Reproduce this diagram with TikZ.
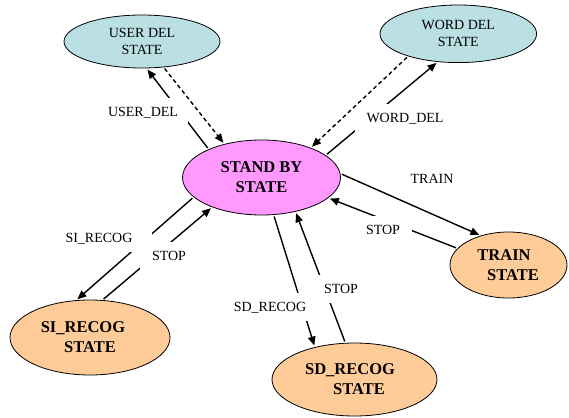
\documentclass[tikz,border=0pt]{standalone}
\usepackage{fontspec}
\setmainfont{Liberation Serif}
\usetikzlibrary{shapes.geometric,arrows.meta}
\definecolor{delfill}{RGB}{187,224,227}
\definecolor{sbfill}{RGB}{255,153,255}
\definecolor{recfill}{RGB}{255,204,153}
\begin{document}
\begin{tikzpicture}[x=1pt,y=-1pt,
  st/.style={ellipse,draw,line width=0.8pt,inner sep=0pt,outer sep=0pt,align=center},
  del/.style={st,fill=delfill,font=\fontsize{14}{17}\selectfont},
  bst/.style={st,font=\fontsize{16.5}{20}\selectfont\bfseries},
  conn/.style={line width=1.4pt,-{Triangle[length=9pt,width=7.5pt]},shorten <=2pt,shorten >=2pt},
  dconn/.style={conn,dash pattern=on 4pt off 3pt},
  lbl/.style={fill=white,inner xsep=12pt,inner ysep=8pt,text height=10pt,text depth=2pt,font=\fontsize{14}{17}\selectfont}]
\useasboundingbox (0,0) rectangle (569,417);
\node[del,minimum width=156pt,minimum height=53pt] (ud) at (142,41.5) {USER DEL\\STATE};
\node[del,minimum width=156.6pt,minimum height=57.6pt] (wd) at (458.3,33.8) {WORD DEL\\STATE};
\node[bst,fill=sbfill,minimum width=158pt,minimum height=75pt] (sb) at (261.5,177.5) {STAND BY\\STATE};
\node[bst,fill=recfill,minimum width=117pt,minimum height=66pt] (tr) at (508.5,265) {\hspace*{-9pt}TRAIN\\\hspace*{9pt}STATE};
\node[bst,fill=recfill,minimum width=160pt,minimum height=75pt] (si) at (90,337.5) {\hspace*{-14pt}SI\_RECOG\\STATE};
\node[bst,fill=recfill,minimum width=165pt,minimum height=73pt] (sd) at (354.5,379.5) {\hspace*{-9pt}SD\_RECOG\\\hspace*{9pt}STATE};
\draw[conn] (sb.152.5) -- (ud.279.6);
\draw[conn] (sb.19) -- (wd.234.3);
\draw[conn] (sb.3.2) -- (tr.133.7);
\draw[conn] (tr.162.6) -- (sb.343.3);
\draw[conn] (sb.196.3) -- (si.111.6);
\draw[conn] (si.72.3) -- (sb.211.6);
\draw[conn] (sb.288.4) -- (sd.141.1);
\draw[conn] (sd.104.6) -- (sb.315.8);
\node[lbl,inner xsep=10pt] (l1) at (143,112) {USER\_DEL};
\node[lbl] (l2) at (405,118) {WORD\_DEL};
\node[lbl] (l3) at (432,179) {TRAIN};
\node[lbl] (l4) at (383,230) {STOP};
\node[lbl,inner xsep=20pt] (l5) at (99,238) {SI\_RECOG};
\node[lbl] (l6) at (169,256) {STOP};
\node[lbl] (l7) at (270,307) {SD\_RECOG};
\node[lbl] (l8) at (341,289) {STOP};
\draw[dconn] (ud.310.3) -- (sb.138.4);
\draw[dconn] (wd.204.9) -- (sb.31.1);
\end{tikzpicture}
\end{document}
